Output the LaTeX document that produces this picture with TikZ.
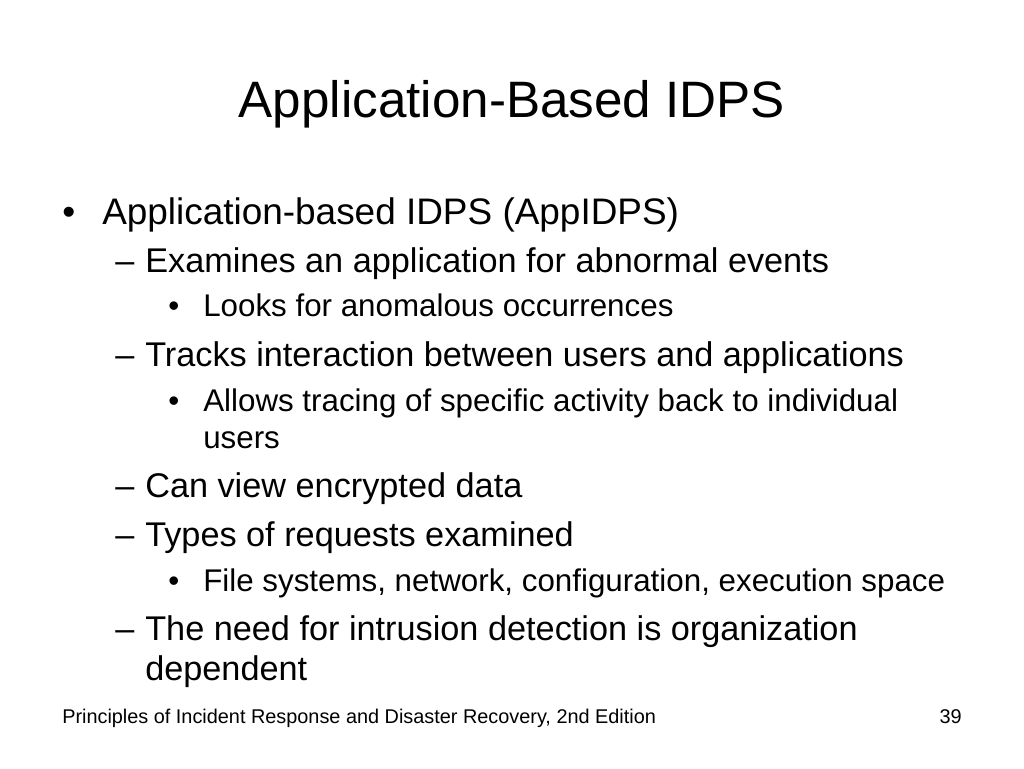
\documentclass[tikz,border=0pt]{standalone}
\usepackage{fontspec}
\setmainfont{Liberation Sans}
\usetikzlibrary{positioning}

\begin{document}
\begin{tikzpicture}[x=0.75pt,y=-0.75pt,
    txt/.style={anchor=base west, inner sep=0pt},
    lvlone/.style={txt, font=\fontsize{27.7}{33}\selectfont},
    lvltwo/.style={txt, font=\fontsize{25.7}{30}\selectfont},
    lvlthree/.style={txt, font=\fontsize{23.5}{28}\selectfont},
    footer/.style={txt, font=\fontsize{14.9}{18}\selectfont}
]
    \useasboundingbox (0,0) rectangle (1024,768);

    % Title
    \node[anchor=base, inner sep=0pt, font=\fontsize{38.4}{46}\selectfont] (title) at (512,117) {Application-Based IDPS};

    % Bullets
    \node[lvlone] (b1) at (62,224) {•};
    \node[lvlone] (t1) at (102,224) {Application-based IDPS (AppIDPS)};

    \node[lvltwo] (d1) at (115,272) {–};
    \node[lvltwo] (t2) at (145,272) {Examines an application for abnormal events};
    \node[lvlthree] (s1) at (168,316) {•};
    \node[lvlthree] (t3) at (203,316) {Looks for anomalous occurrences};

    \node[lvltwo] (d2) at (115,366) {–};
    \node[lvltwo] (t4) at (145,366) {Tracks interaction between users and applications};
    \node[lvlthree] (s2) at (168,411) {•};
    \node[lvlthree] (t5) at (203,411) {Allows tracing of specific activity back to individual};
    \node[lvlthree] (t5b) at (203,448) {users};

    \node[lvltwo] (d3) at (115,497) {–};
    \node[lvltwo] (t6) at (145,497) {Can view encrypted data};

    \node[lvltwo] (d4) at (115,546) {–};
    \node[lvltwo] (t7) at (145,546) {Types of requests examined};
    \node[lvlthree] (s3) at (168,591) {•};
    \node[lvlthree] (t8) at (203,591) {File systems, network, configuration, execution space};

    \node[lvltwo] (d5) at (115,640) {–};
    \node[lvltwo] (t9) at (145,640) {The need for intrusion detection is organization};
    \node[lvltwo] (t9b) at (145,680) {dependent};

    % Footer
    \node[footer] (foot) at (62,723) {Principles of Incident Response and Disaster Recovery, 2nd Edition};
    \node[footer, anchor=base east] (page) at (962,723) {39};
\end{tikzpicture}
\end{document}
